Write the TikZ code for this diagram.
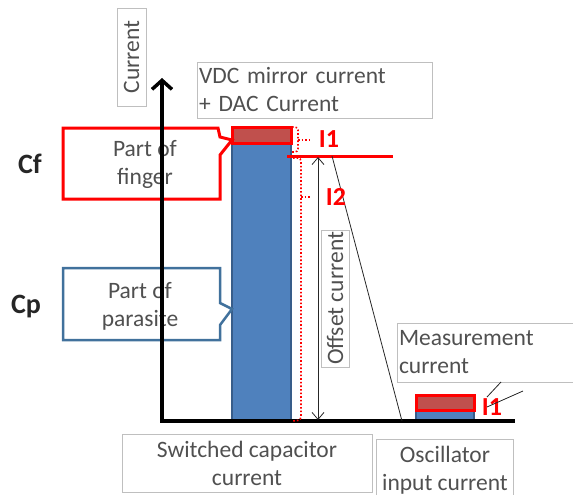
\documentclass[tikz,border=0pt]{standalone}
\usepackage{fontspec}
\setmainfont{Carlito}
\usetikzlibrary{arrows.meta}
\definecolor{barblue}{HTML}{4F81BD}
\definecolor{barline}{HTML}{385D8A}
\definecolor{barred}{HTML}{C0504D}
\definecolor{txtgray}{HTML}{505050}
\definecolor{boxgray}{HTML}{BFBFBF}
\definecolor{calblue}{HTML}{41719C}
\definecolor{darktxt}{HTML}{262626}
\begin{document}
\begin{tikzpicture}[x=1pt,y=-1pt,
  lbl/.style={draw=boxgray, line width=0.8pt, text=txtgray, font=\fontsize{23.5}{28}\selectfont, inner sep=1pt},
  plain/.style={text=txtgray, font=\fontsize{23.5}{28}\selectfont, align=center, inner sep=0pt},
  redlbl/.style={text=red, font=\fontsize{26}{30}\selectfont\bfseries, inner sep=0pt},
  caplbl/.style={text=darktxt, font=\fontsize{28}{30}\selectfont\bfseries, inner sep=0pt},
  reddot/.style={red, dotted, line width=1.6pt},
  thinline/.style={black!85, line width=0.8pt},
  bluebar/.style={fill=barblue, draw=barline, line width=1.5pt},
  redbar/.style={fill=barred, draw=red, line width=3pt}
]
\useasboundingbox (0,0) rectangle (573,495);
% text boxes
\node[lbl, rotate=90, minimum width=98pt, minimum height=29pt] (curlbl) at (131.5,57) {Current};
\node[lbl, minimum width=235pt, minimum height=56pt, text width=231pt, align=left] (vdc) at (314.5,90) {VDC mirror current\\+ DAC Current};
\node[lbl, rotate=90, minimum width=137pt, minimum height=28pt] (offs) at (335,298.5) {Offset current};
\node[lbl, minimum width=178pt, minimum height=59pt, text width=174pt, align=left] (meas) at (486,352.5) {Measurement\\current};
\node[lbl, minimum width=250pt, minimum height=58pt, align=center] (swc) at (247,463) {Switched capacitor\\current};
\node[lbl, minimum width=137pt, minimum height=62pt, align=center] (osc) at (445,470) {Oscillator\\input current};
% bars
\draw[bluebar] (232,127) rectangle (291,421);
\draw[redbar] (232,127) rectangle (291,143);
\draw[bluebar] (416,395) rectangle (474,421);
\draw[redbar] (416,395) rectangle (474,410);
% callouts
\draw[red, line width=3pt, fill=white, line join=miter] (63,128) -- (218,128) -- (220,137) -- (232,140) -- (220,155) -- (220,199) -- (63,199) -- cycle;
\node[plain] (finger) at (145,164) {Part of\\finger};
\draw[calblue, line width=2.5pt, fill=white, line join=miter] (63,268) -- (220,268) -- (220,303) -- (232,309) -- (220,325) -- (220,340) -- (63,340) -- cycle;
\node[plain] (parasite) at (140,306) {Part of\\parasite};
% axes
\coordinate (origin) at (162,421);
\coordinate (ytop) at (162,78);
\coordinate (xend) at (515,421);
\draw[line width=3.5pt, {Straight Barb[length=9pt,width=20pt]}-] (ytop) -- (origin) -- (xend);
% red level line
\coordinate (rl) at (287,156);
\coordinate (rr) at (393,156);
\draw[red, line width=3pt] (rl) -- (rr);
% offset arrow
\coordinate (oa) at (318,157);
\coordinate (ob) at (318,420);
\draw[thinline, {Straight Barb[length=7pt,width=12pt]}-{Straight Barb[length=7pt,width=12pt]}] (oa) -- (ob);
% diagonal
\coordinate (da) at (332,156);
\coordinate (db) at (402,421);
\draw[thinline] (da) -- (db);
% dotted brackets
\draw[reddot, rounded corners=3pt] (292,127) -- (298,127) -- (298,152) -- (292,152);
\draw[reddot] (298,140) -- (309,140);
\draw[reddot, rounded corners=3pt] (293,158) -- (301,158) -- (301,420) -- (293,421);
\draw[reddot] (301,197) -- (311,197);
% labels
\node[redlbl] (i1a) at (329,139) {I1};
\node[redlbl] (i2) at (336,197) {I2};
\node[redlbl] (i1b) at (492,407) {I1};
\node[caplbl] (cf) at (30,164) {Cf};
\node[caplbl] (cp) at (26,307) {Cp};
% measurement pointers
\coordinate (m1) at (501,382);
\coordinate (m2) at (523,391);
\coordinate (p1) at (487,397);
\coordinate (p2) at (487,407);
\draw[thinline] (m1) -- (p1);
\draw[thinline] (m2) -- (p2);
\end{tikzpicture}
\end{document}
